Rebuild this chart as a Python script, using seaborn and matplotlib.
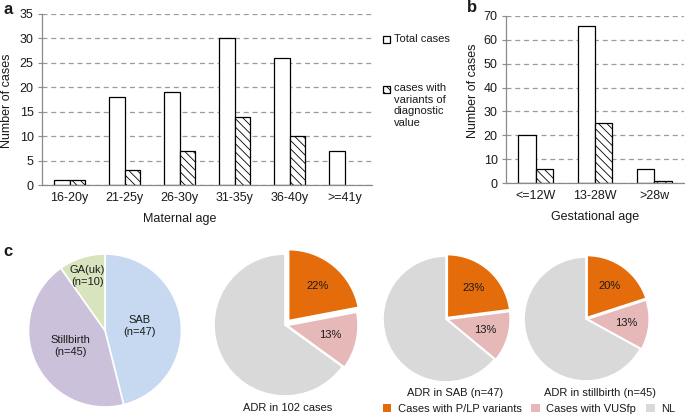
import numpy as np
import pandas as pd
import matplotlib
matplotlib.use("Agg")
import matplotlib.pyplot as plt
from matplotlib.patches import Patch, Rectangle
import seaborn as sns

# DATA
age_groups = ["16-20y", "21-25y", "26-30y", "31-35y", "36-40y", ">=41y"]
age_total = [1, 18, 19, 30, 26, 7]
age_variants = [1, 3, 7, 14, 10, 0]

ga_groups = ["<=12W", "13-28W", ">28w"]
ga_total = [20, 66, 6]
ga_variants = [6, 25, 1]

cohort_labels = ["SAB\n(n=47)", "Stillbirth\n(n=45)", "GA(uk)\n(n=10)"]
cohort_counts = [47, 45, 10]

adr_titles = ["ADR in 102 cases", "ADR in SAB (n=47)", "ADR in stillbirth (n=45)"]
adr_all = [22, 13, 65]
adr_sab = [23, 13, 64]
adr_still = [20, 13, 67]
adr_legend = ["Cases with P/LP variants", "Cases with VUSfp", "NL"]

# STYLE
sns.set_style("white")
plt.rcParams["font.family"] = ["Liberation Sans", "DejaVu Sans"]
plt.rcParams["hatch.linewidth"] = 0.6
plt.rcParams["text.color"] = "#1a1a1a"

cohort_colors = ["#c6d9f1", "#ccc1da", "#d7e4bd"]
adr_colors = ["#e46c0a", "#e6b9b8", "#d9d9d9"]
HATCH = "\\\\\\\\"
GRID = "#9c9c9c"

W, H = 685, 416
fig = plt.figure(figsize=(W / 100, H / 100), dpi=100)


def px_axes(left, top, right, bottom):
    return fig.add_axes([left / W, 1 - bottom / H, (right - left) / W, (bottom - top) / H])


def ftext(x, y, s, **kw):
    return fig.text(x / W, 1 - y / H, s, **kw)


def bar_panel(ax, groups, total, variants, ymax, step, ypad):
    df = pd.DataFrame({
        "group": groups * 2,
        "n": total + variants,
        "kind": ["total"] * len(groups) + ["variants"] * len(groups),
    })
    sns.barplot(data=df, x="group", y="n", hue="kind", palette=["white", "white"],
                saturation=1, edgecolor="black", linewidth=0.9, width=0.58,
                errorbar=None, legend=False, ax=ax)
    for bar in ax.containers[1]:
        bar.set_hatch(HATCH)
        if bar.get_height() == 0:
            bar.set_visible(False)
    ax.set_ylim(0, ymax)
    ax.set_yticks(range(0, ymax + 1, step))
    ax.set_xlim(-0.5, len(groups) - 0.5)
    ax.set_xticks(np.arange(-0.5, len(groups)), minor=True)
    ax.set_xlabel("")
    ax.set_ylabel("")
    ax.yaxis.grid(True, linestyle=(0, (4, 3)), color=GRID, linewidth=0.9)
    ax.xaxis.grid(False)
    ax.set_axisbelow(True)
    for s in ["top", "right"]:
        ax.spines[s].set_visible(False)
    for s in ["left", "bottom"]:
        ax.spines[s].set_color("#8a8a8a")
        ax.spines[s].set_linewidth(0.9)
    ax.tick_params(axis="x", which="major", length=0, pad=5, labelsize=9, labelcolor="#1a1a1a")
    ax.tick_params(axis="x", which="minor", length=3, direction="out", color="#8a8a8a", width=0.8)
    ax.tick_params(axis="y", length=3, direction="out", color="#8a8a8a", width=0.8,
                   pad=ypad, labelsize=9, labelcolor="#1a1a1a", left=True)


# PANEL A
ax_a = px_axes(42, 14, 372, 185)
bar_panel(ax_a, age_groups, age_total, age_variants, 35, 5, 3)
ftext(7, 101, "Number of cases", rotation=90, ha="center", va="center", fontsize=9)
ftext(180, 219, "Maternal age", ha="center", va="center", fontsize=9)

# panel a legend
fig.add_artist(Rectangle((383 / W, 1 - 43 / H), 7 / W, 7 / H, transform=fig.transFigure,
                         facecolor="white", edgecolor="black", linewidth=0.9))
ftext(394, 39, "Total cases", ha="left", va="center", fontsize=8)
fig.add_artist(Rectangle((383 / W, 1 - 93 / H), 7 / W, 7 / H, transform=fig.transFigure,
                         facecolor="white", edgecolor="black", linewidth=0.9, hatch=HATCH))
ftext(394, 83, "cases with\nvariants of\ndiagnostic\nvalue", ha="left", va="top",
      fontsize=8, linespacing=1.2)

# PANEL B
ax_b = px_axes(506, 16, 684, 183)
bar_panel(ax_b, ga_groups, ga_total, ga_variants, 70, 10, 3)
ftext(473, 91, "Number of cases", rotation=90, ha="center", va="center", fontsize=9)
ftext(595, 217, "Gestational age", ha="center", va="center", fontsize=9)

# panel letters
ftext(3, 9, "a", fontsize=12, fontweight="bold", ha="left", va="center")
ftext(467, 8, "b", fontsize=12, fontweight="bold", ha="left", va="center")
ftext(3, 252, "c", fontsize=12, fontweight="bold", ha="left", va="center")

# PANEL C
def pie_axes(cx, cy, r, m=1.15):
    ax = px_axes(cx - r * m, cy - r * m, cx + r * m, cy + r * m)
    return ax, m


ax_c1, m = pie_axes(105, 330.5, 76.5)
wedges, _ = ax_c1.pie(cohort_counts, colors=cohort_colors, startangle=90, counterclock=False,
                      wedgeprops=dict(edgecolor="white", linewidth=1.2))
for w, lab, dist in zip(wedges, cohort_labels, [0.46, 0.5, 0.75]):
    ang = np.deg2rad((w.theta1 + w.theta2) / 2)
    ax_c1.text(dist * np.cos(ang), dist * np.sin(ang), lab, ha="center", va="center",
               fontsize=8, linespacing=1.25)
ax_c1.set_xlim(-m, m)
ax_c1.set_ylim(-m, m)
ax_c1.set_aspect("equal")
ax_c1.axis("off")


def adr_pie(cx, cy, r, values, explode, title, tx, ty):
    ax, m = pie_axes(cx, cy, r)
    ax.pie(values, colors=adr_colors, startangle=90, counterclock=False, explode=explode,
           autopct=lambda p: f"{p:.0f}%" if p < 50 else "", pctdistance=0.63,
           textprops=dict(fontsize=8, color="#1a1a1a"),
           wedgeprops=dict(edgecolor="white", linewidth=1.2))
    ax.set_xlim(-m, m)
    ax.set_ylim(-m, m)
    ax.set_aspect("equal")
    ax.axis("off")
    ftext(tx, ty, title, ha="center", va="center", fontsize=8)


adr_pie(285, 325, 71, adr_all, [0.08, 0.03, 0], adr_titles[0], 288, 408)
adr_pie(446, 319, 63, adr_sab, [0.03, 0.02, 0], adr_titles[1], 455, 393)
adr_pie(586, 319, 62, adr_still, [0.03, 0.02, 0], adr_titles[2], 600, 393)

handles = [Patch(facecolor=c, edgecolor="none") for c in adr_colors]
fig.legend(handles, adr_legend, loc="center", bbox_to_anchor=(529 / W, 1 - 409 / H),
           ncol=3, frameon=False, fontsize=8, handlelength=0.8, handleheight=0.8,
           handletextpad=0.55, columnspacing=0.9, borderpad=0, borderaxespad=0)

fig.savefig("out.png", dpi=100)
